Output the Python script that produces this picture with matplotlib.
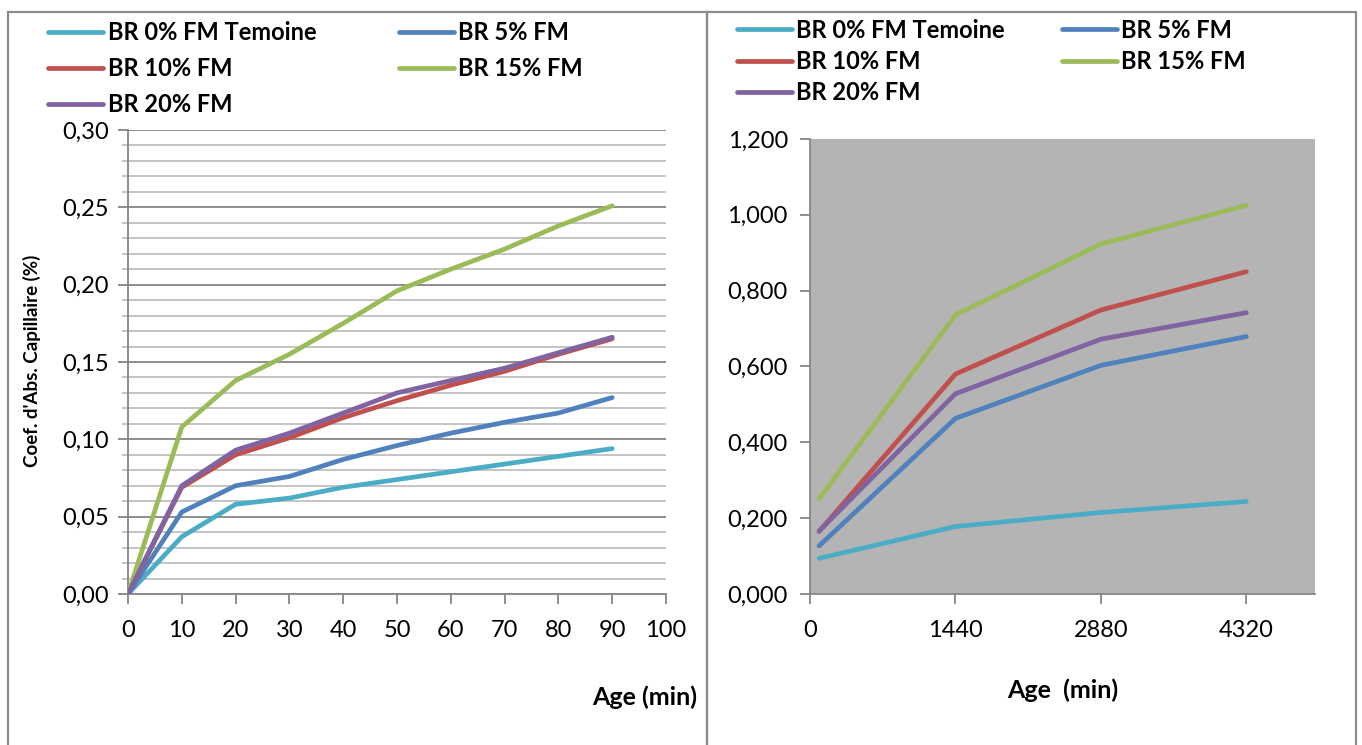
import matplotlib.pyplot as plt
from matplotlib.patches import Rectangle
from matplotlib.ticker import MultipleLocator, FuncFormatter

# left chart: first 90 minutes
t_left = [0, 10, 20, 30, 40, 50, 60, 70, 80, 90]
br0_left = [0, 0.037, 0.058, 0.062, 0.069, 0.074, 0.079, 0.084, 0.089, 0.094]
br5_left = [0, 0.053, 0.070, 0.076, 0.087, 0.096, 0.104, 0.111, 0.117, 0.127]
br10_left = [0, 0.069, 0.090, 0.101, 0.114, 0.125, 0.135, 0.144, 0.155, 0.165]
br15_left = [0, 0.108, 0.138, 0.155, 0.175, 0.196, 0.210, 0.223, 0.238, 0.251]
br20_left = [0, 0.070, 0.093, 0.104, 0.117, 0.130, 0.138, 0.146, 0.156, 0.166]

# right chart: up to 3 days
t_right = [90, 1440, 2880, 4320]
br0_right = [0.094, 0.178, 0.215, 0.244]
br5_right = [0.127, 0.463, 0.603, 0.679]
br10_right = [0.165, 0.580, 0.749, 0.850]
br15_right = [0.251, 0.736, 0.923, 1.025]
br20_right = [0.166, 0.528, 0.672, 0.742]

labels = ["BR 0% FM Temoine", "BR 5% FM", "BR 10% FM", "BR 15% FM", "BR 20% FM"]
colors = ["#4BACC6", "#4F81BD", "#C0504D", "#9BBB59", "#8064A2"]

plt.rcParams['font.family'] = ['Lato', 'DejaVu Sans']

W, H = 1362, 745
fig = plt.figure(figsize=(W / 100, H / 100), dpi=100)

# panel frames
for x0, x1 in [(8, 707), (707, 1356)]:
    fig.patches.append(Rectangle((x0 / W, -0.05), (x1 - x0) / W, (H - 12) / H + 0.05,
                                 transform=fig.transFigure, fill=False,
                                 edgecolor="#8c8c8c", linewidth=1.6))

def px_axes(x0, x1, ytop, ybot):
    return fig.add_axes([x0 / W, (H - ybot) / H, (x1 - x0) / W, (ybot - ytop) / H])

def px_text(x, y, s, **kw):
    fig.text(x / W, 1 - y / H, s, ha='center', va='center', fontweight='bold', **kw)

spine_col = "#868686"
ax1 = px_axes(128, 666, 130, 594)
ax2 = px_axes(810, 1315, 139, 594)

series_left = [br0_left, br5_left, br10_left, br15_left, br20_left]
series_right = [br0_right, br5_right, br10_right, br15_right, br20_right]

for vals, lab, c in zip(series_left, labels, colors):
    ax1.plot(t_left, vals, color=c, lw=3.4, label=lab, solid_capstyle='round', zorder=3)
for vals, lab, c in zip(series_right, labels, colors):
    ax2.plot(t_right, vals, color=c, lw=3.4, label=lab, solid_capstyle='round', zorder=3)

# left axes styling
ax1.set_xlim(0, 100)
ax1.set_ylim(0, 0.30)
ax1.xaxis.set_major_locator(MultipleLocator(10))
ax1.yaxis.set_major_locator(MultipleLocator(0.05))
ax1.yaxis.set_minor_locator(MultipleLocator(0.01))
ax1.yaxis.set_major_formatter(FuncFormatter(lambda v, p: f"{v:.2f}".replace(".", ",")))
ax1.grid(axis='y', which='major', color="#868686", lw=1.3, zorder=1)
ax1.grid(axis='y', which='minor', color="#bfbfbf", lw=1.3, zorder=1)
ax1.set_axisbelow(True)

# right axes styling
ax2.set_facecolor("#b4b4b4")
ax2.set_xlim(0, 5000)
ax2.set_ylim(0, 1.2)
ax2.set_xticks([0, 1440, 2880, 4320])
ax2.yaxis.set_major_locator(MultipleLocator(0.2))
ax2.yaxis.set_major_formatter(FuncFormatter(lambda v, p: f"{v:.3f}".replace(".", ",")))

for ax in (ax1, ax2):
    for s in ("top", "right"):
        ax.spines[s].set_visible(False)
    for s in ("left", "bottom"):
        ax.spines[s].set_color(spine_col)
        ax.spines[s].set_linewidth(1.3)
    ax.tick_params(which='major', direction='out', length=7, width=1.3, color=spine_col,
                   labelsize=17, labelcolor="black")
    ax.tick_params(axis='x', which='major', pad=12)
    ax.tick_params(which='minor', direction='out', length=4, width=1.3, color="#bfbfbf")
ax1.tick_params(axis='y', which='major', pad=7)
ax2.tick_params(axis='y', which='major', pad=9)

# axis titles placed in pixel positions
px_text(32, 361, "Coef. d'Abs. Capillaire (%)", fontsize=13.5, rotation=90,
        rotation_mode='anchor')
px_text(645, 697, "Age (min)", fontsize=18)
px_text(1063, 690, "Age  (min)", fontsize=18)

# row-wise legend order like the original (0/5, 10/15, 20)
order = [0, 2, 4, 1, 3]
leg_kw = dict(loc='upper left', ncol=2, frameon=False, handlelength=2.35,
              handletextpad=0.17, borderaxespad=0, borderpad=0,
              prop={'weight': 'bold', 'size': 17})
h1, l1 = ax1.get_legend_handles_labels()
ax1.legend([h1[i] for i in order], [l1[i] for i in order],
           bbox_to_anchor=(48 / W, 1 - 21.5 / H), bbox_transform=fig.transFigure,
           columnspacing=3.5, labelspacing=0.55, **leg_kw)
h2, l2 = ax2.get_legend_handles_labels()
ax2.legend([h2[i] for i in order], [l2[i] for i in order],
           bbox_to_anchor=(737 / W, 1 - 18.5 / H), bbox_transform=fig.transFigure,
           columnspacing=2.4, labelspacing=0.36, **leg_kw)

fig.savefig("out.png", dpi=100)
